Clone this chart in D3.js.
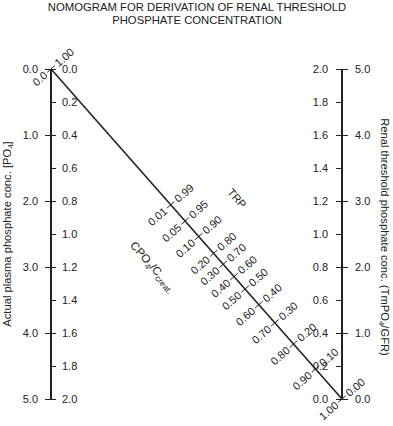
<!DOCTYPE html>
<html>
<head>
<meta charset="utf-8">
<script src="https://cdn.jsdelivr.net/npm/d3@7"></script>
<style>
  body { margin: 0; background: #fff; }
  text { font-family: "Liberation Sans", Arial, sans-serif; fill: #222; }
</style>
</head>
<body>
<script>

var width = 393;
var height = 426;

// left scale: plasma phosphate, mg/dL on the outside, mmol/L on the inside
var leftMgTicks = [0, 1, 2, 3, 4, 5];
var leftMmolTicks = [0, 0.2, 0.4, 0.6, 0.8, 1.0, 1.2, 1.4, 1.6, 1.8, 2.0];
// right scale: TmPO4/GFR, mmol/L on the inside, mg/dL on the outside
var rightMmolTicks = [0, 0.2, 0.4, 0.6, 0.8, 1.0, 1.2, 1.4, 1.6, 1.8, 2.0];
var rightMgTicks = [0, 1, 2, 3, 4, 5];

// diagonal scale: TRP above, CPO4/Ccreat below, and the TmPO4/GFR per unit
// of plasma phosphate that each tick stands for
var trpLabels = ["1.00", "0.99", "0.95", "0.90", "0.80", "0.70", "0.60", "0.50", "0.40", "0.30", "0.20", "0.10", "0.00"];
var cpoLabels = ["0.0", "0.01", "0.05", "0.10", "0.20", "0.30", "0.40", "0.50", "0.60", "0.70", "0.80", "0.90", "1.00"];
var tmpRatio = [Infinity, 1.43, 1.17, 0.97, 0.79, 0.69, 0.59, 0.50, 0.40, 0.30, 0.20, 0.10, 0];

var titleLines = ["NOMOGRAM FOR DERIVATION OF RENAL THRESHOLD", "PHOSPHATE CONCENTRATION"];

var xLeft = 51;
var xRight = 342;
var yTop = 69;
var yBottom = 399;
var fontSize = 11;

var leftMg = d3.scaleLinear().domain([0, 5]).range([yTop, yBottom]);
var leftMmol = d3.scaleLinear().domain([0, 2]).range([yTop, yBottom]);
var rightMmol = d3.scaleLinear().domain([0, 2]).range([yBottom, yTop]);
var rightMg = d3.scaleLinear().domain([0, 5]).range([yBottom, yTop]);

let svg = d3.select('body')
    .append('svg')
        .attr('width', width)
        .attr('height', height);

// title
svg.selectAll('.title')
    .data(titleLines)
    .enter().append('text')
        .attr('class', 'title')
        .attr('x', 197)
        .attr('y', (d, i) => 11 + i * 12.5)
        .attr('text-anchor', 'middle')
        .style('font-size', '11.3px')
        .text(d => d);

function styleAxis(g) {
    g.select('.domain').remove();
    g.selectAll('.tick line').attr('stroke', '#222');
    g.selectAll('.tick text')
        .attr('fill', '#222')
        .style('font-family', '"Liberation Sans", Arial, sans-serif')
        .style('font-size', fontSize + 'px');
}

var fmt = d3.format('.1f');

svg.append('g')
    .attr('transform', 'translate(' + xLeft + ',0)')
    .call(d3.axisLeft(leftMg).tickValues(leftMgTicks).tickFormat(fmt).tickSize(6).tickPadding(7))
    .call(styleAxis);

svg.append('g')
    .attr('transform', 'translate(' + xLeft + ',0)')
    .call(d3.axisRight(leftMmol).tickValues(leftMmolTicks).tickFormat(fmt).tickSize(5).tickPadding(6))
    .call(styleAxis);

svg.append('g')
    .attr('transform', 'translate(' + xRight + ',0)')
    .call(d3.axisLeft(rightMmol).tickValues(rightMmolTicks).tickFormat(fmt).tickSize(6).tickPadding(8))
    .call(styleAxis);

svg.append('g')
    .attr('transform', 'translate(' + xRight + ',0)')
    .call(d3.axisRight(rightMg).tickValues(rightMgTicks).tickFormat(fmt).tickSize(6).tickPadding(7))
    .call(styleAxis);

// vertical axis lines
svg.selectAll('.vaxis')
    .data([xLeft, xRight])
    .enter().append('line')
        .attr('x1', d => d).attr('x2', d => d)
        .attr('y1', yTop).attr('y2', yBottom)
        .attr('stroke', '#222')
        .attr('stroke-width', 2);

// diagonal: from left zero to right zero
var d0 = [xLeft, leftMmol(0)];
var d1 = [xRight, rightMmol(0)];
var len = Math.hypot(d1[0] - d0[0], d1[1] - d0[1]);
var dir = [(d1[0] - d0[0]) / len, (d1[1] - d0[1]) / len];
var nrm = [dir[1], -dir[0]];   // points up-right
var normAngle = Math.atan2(nrm[1], nrm[0]) * 180 / Math.PI;
var dirAngle = Math.atan2(dir[1], dir[0]) * 180 / Math.PI;

svg.append('line')
    .attr('x1', d0[0]).attr('y1', d0[1])
    .attr('x2', d1[0]).attr('y2', d1[1])
    .attr('stroke', '#222')
    .attr('stroke-width', 1.6);

// where the line joining P = 1 on the left and T = ratio on the right crosses the diagonal
function diagT(ratio) {
    if (!isFinite(ratio)) return 0;   // infinite ratio -> top-left end
    var yl = leftMmol(1);
    var yr = rightMmol(ratio);
    return (yl - d0[1]) / ((d1[1] - d0[1]) - (yr - yl));
}
var along = d3.scaleLinear().domain([0, 1]);
var diagX = along.copy().range([d0[0], d1[0]]);
var diagY = along.copy().range([d0[1], d1[1]]);

var diagTicks = tmpRatio.map((r, i) => {
    var t = diagT(r);
    return {x: diagX(t), y: diagY(t), trp: trpLabels[i], cpo: cpoLabels[i]};
});

svg.selectAll('.dtick')
    .data(diagTicks)
    .enter().append('line')
        .attr('x1', d => d.x - 5 * nrm[0]).attr('y1', d => d.y - 5 * nrm[1])
        .attr('x2', d => d.x + 5 * nrm[0]).attr('y2', d => d.y + 5 * nrm[1])
        .attr('stroke', '#222')
        .attr('stroke-width', 1);

svg.selectAll('.trp')
    .data(diagTicks)
    .enter().append('text')
        .attr('transform', d => 'translate(' + (d.x + 7 * nrm[0]) + ',' + (d.y + 7 * nrm[1]) + ') rotate(' + normAngle + ')')
        .attr('dy', '0.35em')
        .attr('text-anchor', 'start')
        .style('font-size', fontSize + 'px')
        .text(d => d.trp);

svg.selectAll('.cpo')
    .data(diagTicks)
    .enter().append('text')
        .attr('transform', d => 'translate(' + (d.x - 7 * nrm[0]) + ',' + (d.y - 7 * nrm[1]) + ') rotate(' + normAngle + ')')
        .attr('dy', '0.35em')
        .attr('text-anchor', 'end')
        .style('font-size', fontSize + 'px')
        .text(d => d.cpo);

// diagonal titles
svg.append('text')
    .attr('transform', 'translate(' + (diagX(0.5) + 54 * nrm[0]) + ',' + (diagY(0.5) + 54 * nrm[1]) + ') rotate(' + dirAngle + ')')
    .attr('text-anchor', 'middle')
    .attr('dy', '0.35em')
    .style('font-size', '11px')
    .text('TRP');

var cpoTitle = svg.append('text')
    .attr('transform', 'translate(' + (diagX(0.49) - 54 * nrm[0]) + ',' + (diagY(0.49) - 54 * nrm[1]) + ') rotate(' + dirAngle + ')')
    .attr('text-anchor', 'middle')
    .attr('dy', '0.35em')
    .style('font-size', '11.5px');
cpoTitle.append('tspan').text('CPO');
cpoTitle.append('tspan').attr('dy', '3').style('font-size', '8.5px').text('4');
cpoTitle.append('tspan').attr('dy', '-3').text('/C');
cpoTitle.append('tspan').attr('dy', '3').style('font-size', '8.5px').text('creat.');

// axis titles
var leftTitle = svg.append('text')
    .attr('transform', 'translate(10.5,' + ((yTop + yBottom) / 2) + ') rotate(-90)')
    .attr('text-anchor', 'middle')
    .style('font-size', '11.2px');
leftTitle.append('tspan').text('Actual plasma phosphate conc. [PO');
leftTitle.append('tspan').attr('dy', '2.5').style('font-size', '8px').text('4');
leftTitle.append('tspan').attr('dy', '-2.5').text(']');

var rightTitle = svg.append('text')
    .attr('transform', 'translate(381,' + ((yTop + yBottom) / 2 + 3) + ') rotate(90)')
    .attr('text-anchor', 'middle')
    .style('font-size', '11.2px');
rightTitle.append('tspan').text('Renal threshold phosphate conc. (TmPO');
rightTitle.append('tspan').attr('dy', '2.5').style('font-size', '8px').text('4');
rightTitle.append('tspan').attr('dy', '-2.5').text('/GFR)');

</script>
</body>
</html>
